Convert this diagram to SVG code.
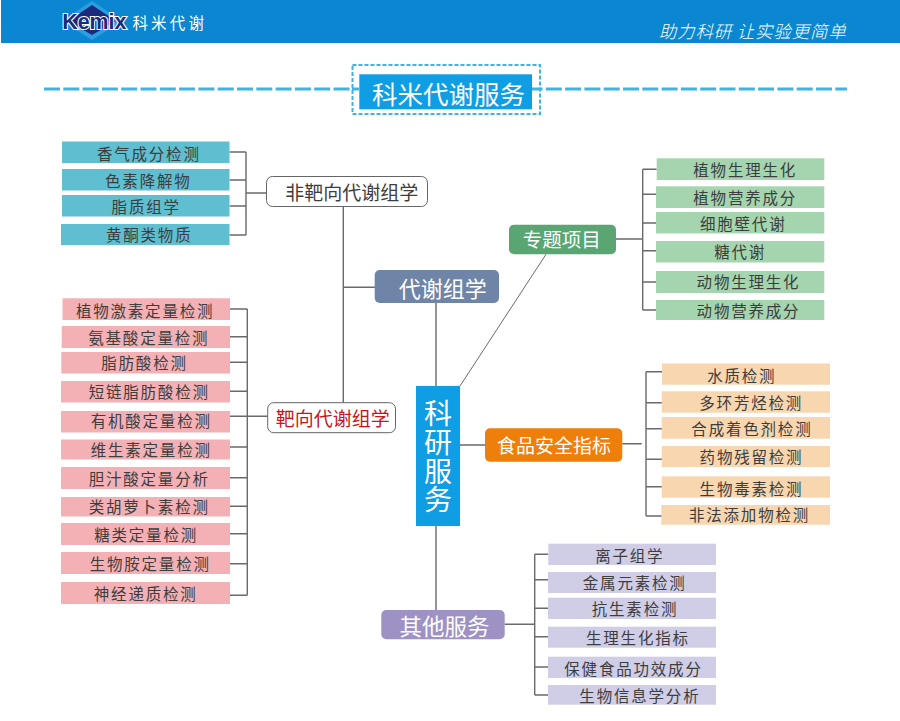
<svg xmlns="http://www.w3.org/2000/svg" width="900" height="721" viewBox="0 0 900 721">
<style>
text{font-family:"Noto Sans CJK SC","Noto Sans",sans-serif;dominant-baseline:central;text-anchor:middle;transform:translate(-0.7px,-1px)}
.l{font-size:15.5px;letter-spacing:1.8px;fill:#3d3d3d}
.w{fill:#fff}
.c{fill:none;stroke:#6a6a6a;stroke-width:1.4}
.t{fill:#5fbfd0}.p{fill:#f4b1b5}.g{fill:#a5d5ae}.o{fill:#f8d6b0}.v{fill:#d0cde6}
.n{fill:#fff;stroke:#666;stroke-width:1}
</style>
<rect width="900" height="721" fill="#fff"/>
<g id="header">
<rect x="1" y="0" width="899" height="43" fill="#0a87d0"/>
<polygon points="92,1 122,21 92,40 62,21" fill="#2a9fe0"/>
<polygon points="92,5 116,21 92,35 68,21" fill="#1b2a7c"/>
<text x="95" y="22" style="font-family:'Liberation Sans',sans-serif;font-size:22px;font-weight:700;fill:#1b2a7c;stroke:#fff;stroke-width:2.2px;paint-order:stroke" textLength="64" lengthAdjust="spacingAndGlyphs">Kemix</text>
<text class="w" x="170.500" y="23" style="font-size:15.500px;letter-spacing:3.200px">科米代谢</text>
<text class="w" x="753" y="31.500" style="font-size:17.500px;font-style:italic;font-weight:300" textLength="187">助力科研 让实验更简单</text>
</g>
<g id="title">
<line x1="44" y1="89" x2="847" y2="89" stroke="#3fb4e2" stroke-width="3" stroke-dasharray="16 3.3"/>
<rect x="352.500" y="65" width="187.500" height="49" fill="#fff" stroke="#3fb4e2" stroke-width="2" stroke-dasharray="4 2"/>
<line x1="352" y1="89" x2="359" y2="89" stroke="#3fb4e2" stroke-width="3"/>
<line x1="532" y1="89" x2="540" y2="89" stroke="#3fb4e2" stroke-width="3"/>
<rect x="359.300" y="74.300" width="172.700" height="35" fill="#0f9de3"/>
<text class="w" x="449.200" y="93" style="font-size:25.500px">科米代谢服务</text>
</g>
<g id="connectors">
<path class="c" d="M229.500 152H246M229.500 180H246M229.500 206H246M229.500 235H246M246 152V235M246 193H266.500"/>
<path class="c" d="M343.300 206.500V402.700M343.300 287.300H375M436 303V386M436 526V610"/>
<path class="c" d="M230 309H247.300M230 336.700H247.300M230 362.300H247.300M230 391.300H247.300M230 416.300H267.700M230 447H247.300M230 477.700H247.300M230 506.300H247.300M230 533.700H247.300M230 563.700H247.300M230 595.300H247.300M247.300 309V595.300"/>
<path class="c" style="stroke-width:1" d="M546 254.300L460 386"/>
<path class="c" d="M616 239H642.700M642.700 169.300V310M642.700 169.300H656.700M642.700 194.300H656M642.700 223H656M642.700 250.700H656M642.700 282H656M642.700 310H656"/>
<path class="c" d="M460 445H485M622.300 443.700H641.700M646 371.700V516M646 371.700H662M646 402.700H662M646 428.700H662M646 459.300H662M646 486.700H662M646 516H662"/>
<path class="c" d="M504.700 624.300H534.700M534.700 554.300V695M534.700 554.300H548.300M534.700 579.700H548M534.700 608.300H548M534.700 636.700H548M534.700 667H548M534.700 695H548"/>
</g>
<g id="root"><rect x="416" y="386" width="44" height="140" fill="#0f9de3"/>
<text class="w" x="438.700" y="458" style="font-size:28px;writing-mode:vertical-rl;letter-spacing:0.700px">科研服务</text></g>
<g id="metabolomics"><rect x="374.700" y="270" width="124.300" height="33" rx="5" fill="#6f85a7"/><text class="w" x="443.500" y="287.500" style="font-size:22px">代谢组学</text></g>
<g id="untargeted"><rect class="n" x="266.500" y="176.500" width="161" height="30" rx="6"/><text x="352.500" y="192" style="font-size:19px;fill:#3d3d3d">非靶向代谢组学</text></g>
<g id="targeted"><rect class="n" x="267.700" y="402.700" width="127.800" height="30" rx="6"/><text x="333.500" y="418" style="font-size:19px;fill:#c8151b">靶向代谢组学</text></g>
<g id="topics"><rect x="509" y="224.700" width="107" height="29.600" rx="5" fill="#5aa672"/><text class="w" x="562.500" y="239.500" style="font-size:19.500px">专题项目</text></g>
<g id="food"><rect x="485" y="428.300" width="137.300" height="33.400" rx="5" fill="#ee7f0a"/><text class="w" x="554.700" y="445" style="font-size:19px">食品安全指标</text></g>
<g id="other"><rect x="381.300" y="610" width="123.400" height="29.300" rx="5" fill="#9e92c4"/><text class="w" x="445.200" y="626" style="font-size:22.500px">其他服务</text></g>
<g id="u1"><rect class="t" x="62" y="141.500" width="167.500" height="21.500"/><text class="l" x="149.500" y="154">香气成分检测</text></g>
<g id="u2"><rect class="t" x="62" y="169" width="167.500" height="21.500"/><text class="l" x="149" y="180.700">色素降解物</text></g>
<g id="u3"><rect class="t" x="62" y="195" width="167.500" height="21.500"/><text class="l" x="146.900" y="206.700">脂质组学</text></g>
<g id="u4"><rect class="t" x="61" y="224" width="168.500" height="21"/><text class="l" x="149.900" y="235">黄酮类物质</text></g>
<g id="p1"><rect class="p" x="62.500" y="298.300" width="167.500" height="21.700"/><text class="l" x="145.800" y="311">植物激素定量检测</text></g>
<g id="p2"><rect class="p" x="61.700" y="326" width="168.300" height="22"/><text class="l" x="149.500" y="337.700">氨基酸定量检测</text></g>
<g id="p3"><rect class="p" x="61.300" y="352" width="168.700" height="21.500"/><text class="l" x="145.200" y="363">脂肪酸检测</text></g>
<g id="p4"><rect class="p" x="61" y="381" width="169" height="21.500"/><text class="l" x="149.900" y="391.700">短链脂肪酸检测</text></g>
<g id="p5"><rect class="p" x="61" y="411" width="169" height="21.500"/><text class="l" x="151.900" y="421">有机酸定量检测</text></g>
<g id="p6"><rect class="p" x="61" y="439.500" width="169" height="20"/><text class="l" x="151.900" y="450">维生素定量检测</text></g>
<g id="p7"><rect class="p" x="61" y="467" width="169" height="22"/><text class="l" x="149.900" y="478.700">胆汁酸定量分析</text></g>
<g id="p8"><rect class="p" x="61" y="497" width="169" height="19.500"/><text class="l" x="149.900" y="506.700">类胡萝卜素检测</text></g>
<g id="p9"><rect class="p" x="61" y="523" width="169" height="22"/><text class="l" x="146.800" y="535">糖类定量检测</text></g>
<g id="p10"><rect class="p" x="61" y="552" width="169" height="22"/><text class="l" x="150.900" y="564">生物胺定量检测</text></g>
<g id="p11"><rect class="p" x="61" y="582" width="169" height="22"/><text class="l" x="146.400" y="594.300">神经递质检测</text></g>
<g id="g1"><rect class="g" x="656.700" y="158.300" width="167.600" height="21.700"/><text class="l" x="745.900" y="170">植物生理生化</text></g>
<g id="g2"><rect class="g" x="656" y="186.300" width="168.300" height="21.700"/><text class="l" x="745.900" y="198.300">植物营养成分</text></g>
<g id="g3"><rect class="g" x="656" y="212" width="168.300" height="21.500"/><text class="l" x="743.900" y="224">细胞壁代谢</text></g>
<g id="g4"><rect class="g" x="656" y="241" width="168.300" height="21.500"/><text class="l" x="740.900" y="251.700">糖代谢</text></g>
<g id="g5"><rect class="g" x="656" y="271" width="168.300" height="22"/><text class="l" x="749.200" y="282.300">动物生理生化</text></g>
<g id="g6"><rect class="g" x="656" y="300" width="168.300" height="20"/><text class="l" x="749.200" y="311">动物营养成分</text></g>
<g id="f1"><rect class="o" x="662" y="363.500" width="168" height="21.200"/><text class="l" x="742.500" y="376">水质检测</text></g>
<g id="f2"><rect class="o" x="661.700" y="391.300" width="168.300" height="21.400"/><text class="l" x="751.900" y="402.700">多环芳烃检测</text></g>
<g id="f3"><rect class="o" x="661.700" y="417" width="168.300" height="21.700"/><text class="l" x="752.600" y="428.700">合成着色剂检测</text></g>
<g id="f4"><rect class="o" x="661.700" y="446" width="168.300" height="21"/><text class="l" x="752.200" y="457.300">药物残留检测</text></g>
<g id="f5"><rect class="o" x="661.700" y="476.300" width="168.300" height="21.400"/><text class="l" x="752.200" y="489">生物毒素检测</text></g>
<g id="f6"><rect class="o" x="661.300" y="505" width="168.700" height="19.700"/><text class="l" x="750.200" y="515.300">非法添加物检测</text></g>
<g id="o1"><rect class="v" x="548.300" y="543.700" width="167.700" height="21.300"/><text class="l" x="630.500" y="556.300">离子组学</text></g>
<g id="o2"><rect class="v" x="548" y="572" width="168" height="21"/><text class="l" x="635.400" y="583.300">金属元素检测</text></g>
<g id="o3"><rect class="v" x="548" y="597.700" width="168" height="21.300"/><text class="l" x="635.700" y="609.300">抗生素检测</text></g>
<g id="o4"><rect class="v" x="548" y="626.700" width="168" height="21"/><text class="l" x="638.600" y="637.700">生理生化指标</text></g>
<g id="o5"><rect class="v" x="548" y="656.700" width="168" height="21.300"/><text class="l" x="634.200" y="669">保健食品功效成分</text></g>
<g id="o6"><rect class="v" x="548" y="685" width="168" height="19.700"/><text class="l" x="640.600" y="695.700">生物信息学分析</text></g>
</svg>
